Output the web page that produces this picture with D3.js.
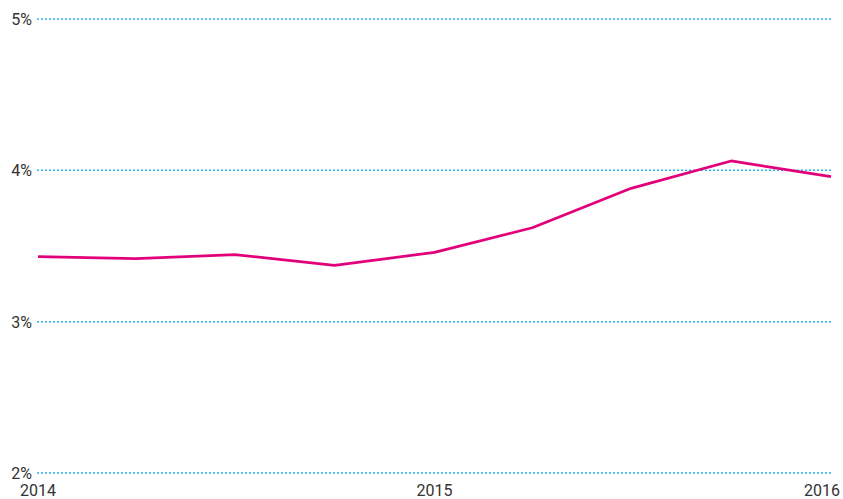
<!DOCTYPE html>
<html>
<head>
<meta charset="utf-8">
<script src="https://cdn.jsdelivr.net/npm/d3@7"></script>
<style>
  body { margin: 0; background: #fff; }
  text { font-family: Roboto, "Liberation Sans", sans-serif; fill: #333; }
</style>
</head>
<body>
<script>
/* data */
var quarters = ['2014-01-01', '2014-04-01', '2014-07-01', '2014-10-01', '2015-01-01',
                '2015-04-01', '2015-07-01', '2015-10-01', '2016-01-01'];
var values = [3.43, 3.416, 3.443, 3.372, 3.458, 3.621, 3.881, 4.062, 3.958];
var yTicks = [2, 3, 4, 5];
var xTicks = ['2014-01-01', '2015-01-01', '2016-01-01'];

/* setup */
var width = 843;
var height = 499;
var parse = d3.timeParse('%Y-%m-%d');

var x = d3.scaleTime()
    .domain([parse(quarters[0]), parse(quarters[quarters.length - 1])])
    .range([38, 831]);

var y = d3.scaleLinear()
    .domain([2, 5])
    .range([473, 19]);

var svg = d3.select('body').append('svg')
    .attr('width', width)
    .attr('height', height)

/* grid */
var grid = svg.append('g').attr('id', 'grid')
grid.selectAll('line').data(yTicks).enter().append('line')
    .attr('x1', 37)
    .attr('x2', 831)
    .attr('y1', function(d) { return y(d) })
    .attr('y2', function(d) { return y(d) })
    .attr('stroke', '#29b6ef')
    .attr('stroke-width', 1.5)
    .attr('stroke-dasharray', '2,2')

grid.selectAll('text').data(yTicks).enter().append('text')
    .attr('x', 32)
    .attr('y', function(d) { return y(d) + 6 })
    .attr('text-anchor', 'end')
    .style('font-size', '16px')
    .text(function(d) { return d + '%' })

/* x labels */
svg.append('g').attr('id', 'xlabels')
    .selectAll('text').data(xTicks).enter().append('text')
    .attr('x', function(d, i) { return i === xTicks.length - 1 ? 840 : x(parse(d)) })
    .attr('y', 496)
    .attr('text-anchor', function(d, i) { return i === xTicks.length - 1 ? 'end' : 'middle' })
    .style('font-size', '16px')
    .text(function(d) { return d.slice(0, 4) })

/* line */
var line = d3.line()
    .x(function(d, i) { return x(parse(quarters[i])) })
    .y(function(d) { return y(d) })

svg.append('path').datum(values)
    .attr('d', line)
    .attr('fill', 'none')
    .attr('stroke', '#e2007a')
    .attr('stroke-width', 2.7)
    .attr('stroke-linejoin', 'round')
</script>
</body>
</html>
